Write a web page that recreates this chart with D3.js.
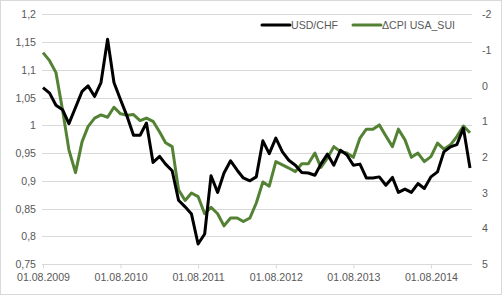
<!DOCTYPE html>
<meta charset="utf-8">
<script src="https://d3js.org/d3.v7.min.js"></script>
<style>
  body { margin: 0; background: #fff; }
  text { font-family: "Liberation Sans", Arial, sans-serif; }
</style>
<svg id="chart" width="502" height="295"></svg>
<script>

// monthly categories, 01.08.2009 .. 01.02.2015
var startDate = new Date(2009, 7, 1);
var endDate = new Date(2015, 1, 1);
var months = d3.timeMonth.range(startDate, d3.timeMonth.offset(endDate, 1));

// USD/CHF (left axis)
var usdChf = [1.068, 1.058, 1.036, 1.028, 1.003, 1.032, 1.061, 1.071, 1.052, 1.077,
  1.155, 1.077, 1.046, 1.016, 0.982, 0.982, 1.004, 0.933, 0.944, 0.930,
  0.918, 0.865, 0.853, 0.840, 0.786, 0.804, 0.909, 0.879, 0.914, 0.936,
  0.919, 0.905, 0.900, 0.907, 0.972, 0.949, 0.977, 0.952, 0.937, 0.928,
  0.915, 0.914, 0.910, 0.930, 0.948, 0.928, 0.955, 0.947, 0.928, 0.930,
  0.905, 0.905, 0.907, 0.892, 0.906, 0.879, 0.885, 0.879, 0.895, 0.886,
  0.907, 0.916, 0.952, 0.961, 0.965, 0.995, 0.923];

// delta CPI USA - SUI (right axis, reversed)
var cpiDiff = [-0.925, -0.70, -0.365, 0.68, 1.80, 2.44, 1.57, 1.15, 0.91, 0.82,
  0.885, 0.605, 0.79, 0.83, 0.81, 0.98, 0.91, 1.00, 1.30, 1.60,
  1.71, 2.92, 3.22, 3.01, 3.11, 3.59, 3.41, 3.59, 3.93, 3.71,
  3.71, 3.81, 3.71, 3.29, 2.70, 2.82, 2.13, 2.22, 2.31, 2.41,
  2.19, 2.19, 1.89, 2.29, 2.03, 1.71, 1.85, 1.89, 2.01, 1.47,
  1.22, 1.22, 1.10, 1.41, 1.71, 1.22, 1.52, 2.01, 1.89, 2.13,
  1.99, 1.61, 1.78, 1.66, 1.43, 1.13, 1.32];

// tick labels
var leftTicks = [0.75, 0.8, 0.85, 0.9, 0.95, 1, 1.05, 1.1, 1.15, 1.2];
var rightTicks = [-2, -1, 0, 1, 2, 3, 4, 5];
var xTicks = [2009, 2010, 2011, 2012, 2013, 2014].map(function (y) { return new Date(y, 7, 1); });
var seriesNames = ["USD/CHF", "\u0394CPI USA_SUI"];

var svg = d3.select("#chart");
var gridColor = "#d9d9d9", labelColor = "#595959";

// outer border
svg.append("rect")
  .attr("x", 0.5).attr("y", 0.5)
  .attr("width", 501).attr("height", 294)
  .attr("fill", "none").attr("stroke", gridColor);

// scales
var x = d3.scaleTime().domain([startDate, endDate]).range([43, 470]);
var yLeft = d3.scaleLinear().domain([0.75, 1.2]).range([264, 14.3]);
var yRight = d3.scaleLinear().domain([-2, 5]).range([14.3, 264]);

// gridlines
svg.append("g")
  .selectAll("line")
  .data(leftTicks.slice(1))
  .enter()
  .append("line")
    .attr("x1", 42).attr("x2", 472)
    .attr("y1", function (d) { return Math.round(yLeft(d)) + 0.5; })
    .attr("y2", function (d) { return Math.round(yLeft(d)) + 0.5; })
    .attr("stroke", gridColor);

// left axis labels
svg.append("g")
  .selectAll("text")
  .data(leftTicks)
  .enter()
  .append("text")
    .attr("x", 36)
    .attr("y", function (d) { return yLeft(d) + 4; })
    .attr("text-anchor", "end")
    .attr("font-size", "10.6px")
    .attr("fill", labelColor)
    .text(function (d) { return String(d).replace(".", ","); });

// right axis labels
svg.append("g")
  .selectAll("text")
  .data(rightTicks)
  .enter()
  .append("text")
    .attr("x", 482)
    .attr("y", function (d) { return yRight(d) + 4; })
    .attr("font-size", "10.6px")
    .attr("fill", labelColor)
    .text(function (d) { return d; });

// x axis
var xAxis = d3.axisBottom(x)
  .tickValues(xTicks)
  .tickSize(4)
  .tickPadding(5)
  .tickFormat(d3.timeFormat("%d.%m.%Y"));

var gx = svg.append("g")
  .attr("transform", "translate(0,264.5)")
  .call(xAxis);
gx.select(".domain").attr("d", "M42,0H472").attr("stroke", gridColor);
gx.selectAll(".tick line").attr("stroke", gridColor);
gx.selectAll(".tick text")
  .attr("font-family", "Liberation Sans, Arial, sans-serif")
  .attr("font-size", "10.6px")
  .attr("fill", labelColor);

// lines
var lineLeft = d3.line()
  .x(function (d, i) { return x(months[i]); })
  .y(function (d) { return yLeft(d); });
var lineRight = d3.line()
  .x(function (d, i) { return x(months[i]); })
  .y(function (d) { return yRight(d); });

svg.append("path")
  .datum(cpiDiff)
  .attr("d", lineRight)
  .attr("fill", "none")
  .attr("stroke", "#548235")
  .attr("stroke-width", 3)
  .attr("stroke-linejoin", "round");

svg.append("path")
  .datum(usdChf)
  .attr("d", lineLeft)
  .attr("fill", "none")
  .attr("stroke", "#000")
  .attr("stroke-width", 3)
  .attr("stroke-linejoin", "round");

// legend
var legend = [
  { name: seriesNames[0], color: "#000", x: 262 },
  { name: seriesNames[1], color: "#548235", x: 353 }
];
var lg = svg.append("g")
  .selectAll("g")
  .data(legend)
  .enter()
  .append("g")
    .attr("transform", function (d) { return "translate(" + d.x + ",25)"; });
lg.append("line")
  .attr("x1", 0).attr("x2", 28)
  .attr("stroke", function (d) { return d.color; })
  .attr("stroke-width", 3)
  .attr("stroke-linecap", "round");
lg.append("text")
  .attr("x", 29)
  .attr("y", 4)
  .attr("font-size", "10.6px")
  .attr("fill", labelColor)
  .text(function (d) { return d.name; });

</script>
